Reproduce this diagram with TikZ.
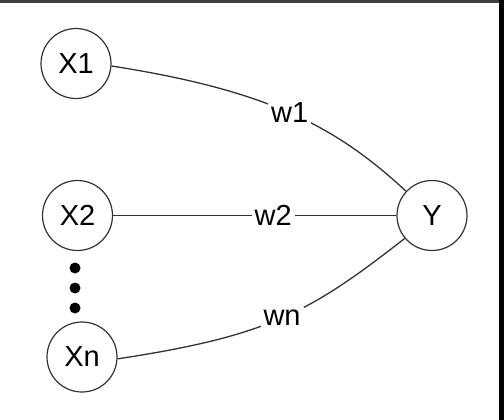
\documentclass[tikz,border=0pt]{standalone}
\usepackage{fontspec}
\setmainfont{Liberation Sans}
\begin{document}
\begin{tikzpicture}[x=1pt,y=-1pt,
  var/.style={circle,draw=black!80,line width=1.2pt,minimum size=70pt,inner sep=0pt,font=\fontsize{29}{32}\selectfont},
  lbl/.style={fill=white,inner sep=3pt,font=\fontsize{29}{32}\selectfont},
  edge/.style={draw=black!80,line width=1.3pt},
  dotn/.style={circle,fill=black,inner sep=0pt,minimum size=11pt}]
\useasboundingbox (0,0) rectangle (504,420);
\fill[white] (0,0) rectangle (504,420);
\draw[line width=3pt, black!75] (0,1.5) -- (504,1.5);
\draw[line width=5pt] (501.5,0) -- (501.5,420);
\node[var] (X1) at (76,63.5) {X1};
\node[var] (X2) at (77.5,215.5) {X2};
\node[var] (Xn) at (82,357) {Xn};
\node[var] (Y) at (432,215.5) {Y};
\node[dotn] (d1) at (75,268) {};
\node[dotn] (d2) at (75,288) {};
\node[dotn] (d3) at (75,308) {};
\draw[edge] (X1.-4) .. controls (265,90) and (335,125) .. node[lbl,pos=0.5]{w1} (Y.137);
\draw[edge] (X2) -- node[lbl,pos=0.565]{w2} (Y);
\draw[edge] (Xn.-3) .. controls (268,336) and (310,312.5) .. node[lbl,pos=0.5]{wn} (Y.-140);
\end{tikzpicture}
\end{document}
